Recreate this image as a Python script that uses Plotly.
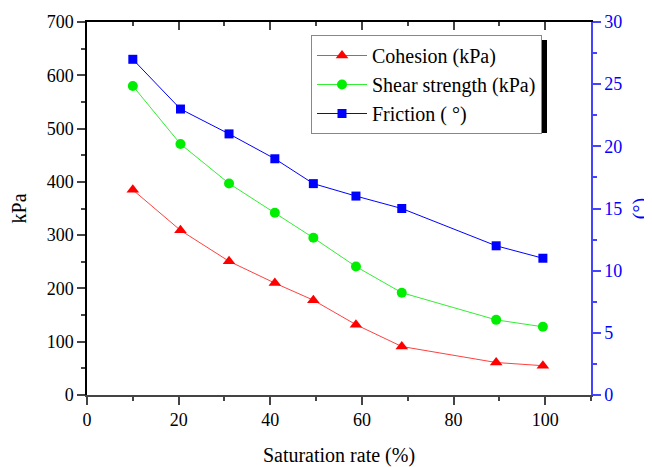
import plotly.graph_objects as go

saturation = [10, 20.4, 31, 41, 49.4, 58.7, 68.7, 89.3, 99.5]
cohesion = [385, 309, 251, 210, 178, 132, 91, 61, 55]
shear_strength = [580, 471, 397, 342, 295, 241, 192, 141, 128]
friction = [27, 23, 21, 19, 17, 16, 15, 12, 11]

FONT = "'Liberation Serif', 'Times New Roman', serif"

# plot-area pixel geometry helpers (for legend shadow placement)
PX_L, PX_T, PW, PH = 87, 22, 504, 373
def px(x):
    return (x - PX_L) / PW
def py(y):
    return (PX_T + PH - y) / PH

fig = go.Figure()
fig.add_trace(go.Scatter(x=saturation, y=cohesion, name="Cohesion (kPa)", mode="lines+markers",
                         line=dict(color="#ff4040", width=1),
                         marker=dict(symbol="triangle-up", size=11, color="#ff0000")))
fig.add_trace(go.Scatter(x=saturation, y=shear_strength, name="Shear strength (kPa)", mode="lines+markers",
                         line=dict(color="#33ee33", width=1),
                         marker=dict(symbol="circle", size=10, color="#00ee00")))
fig.add_trace(go.Scatter(x=saturation, y=friction, name="Friction ( °)", mode="lines+markers",
                         yaxis="y2",
                         line=dict(color="#0000ff", width=1),
                         marker=dict(symbol="square", size=9, color="#0000ff")))

fig.update_layout(
    width=644, height=459,
    margin=dict(l=79, r=61, t=14, b=72, autoexpand=False),
    paper_bgcolor="white", plot_bgcolor="white",
    font=dict(family=FONT, size=17, color="black"),
    showlegend=True,
    legend=dict(x=px(311), y=py(35), xanchor="left", yanchor="top",
                bgcolor="white", bordercolor="#888888", borderwidth=1,
                font=dict(family=FONT, size=20), tracegroupgap=0, itemwidth=50),
    xaxis=dict(range=[0, 110], tickvals=[0, 20, 40, 60, 80, 100], ticks="outside", ticklen=8,
               tickwidth=1.5, showline=True, linecolor="#444444", linewidth=1.5, showgrid=False,
               zeroline=False, minor=dict(dtick=10, ticks="outside", ticklen=4, tickwidth=1.5),
               title=dict(text="Saturation rate (%)", font=dict(family=FONT, size=20), standoff=19),
               tickfont=dict(family=FONT, size=18), automargin=False),
    xaxis2=dict(range=[0, 110], overlaying="x", side="top", tickvals=[0, 20, 40, 60, 80, 100],
                ticks="inside", ticklen=8, tickwidth=1.5, showticklabels=False, showline=True,
                linecolor="black", linewidth=1.5, showgrid=False, zeroline=False,
                minor=dict(dtick=10, ticks="inside", ticklen=4, tickwidth=1.5), automargin=False),
    yaxis=dict(range=[0, 700], dtick=100, ticks="outside", ticklen=8, tickwidth=1.5,
               showline=True, linecolor="black", linewidth=1.5, showgrid=False, zeroline=False,
               minor=dict(dtick=50, ticks="outside", ticklen=4, tickwidth=1.5),
               title=dict(text="kPa", font=dict(family=FONT, size=20), standoff=24),
               tickfont=dict(family=FONT, size=18), automargin=False),
    yaxis2=dict(range=[0, 30], dtick=5, overlaying="y", side="right", ticks="outside", ticklen=8,
                tickwidth=1.5, tickcolor="#4444ff", showline=True, linecolor="#4444ff", linewidth=1.5,
                showgrid=False, zeroline=False,
                minor=dict(dtick=2.5, ticks="outside", ticklen=4, tickwidth=1.5, tickcolor="#4444ff"),
                tickfont=dict(family=FONT, size=18, color="#0000ff"),
                title=dict(text="(°)", font=dict(family=FONT, size=20, color="#0000ff"), standoff=12),
                automargin=False),
    shapes=[dict(type="rect", xref="paper", yref="paper",
                 x0=px(316), x1=px(547),
                 y0=py(133), y1=py(40),
                 fillcolor="black", line=dict(width=0), layer="above")],
)
fig.add_trace(go.Scatter(x=[None], y=[None], xaxis="x2", showlegend=False, hoverinfo="skip"))

fig.write_html("out.html")
